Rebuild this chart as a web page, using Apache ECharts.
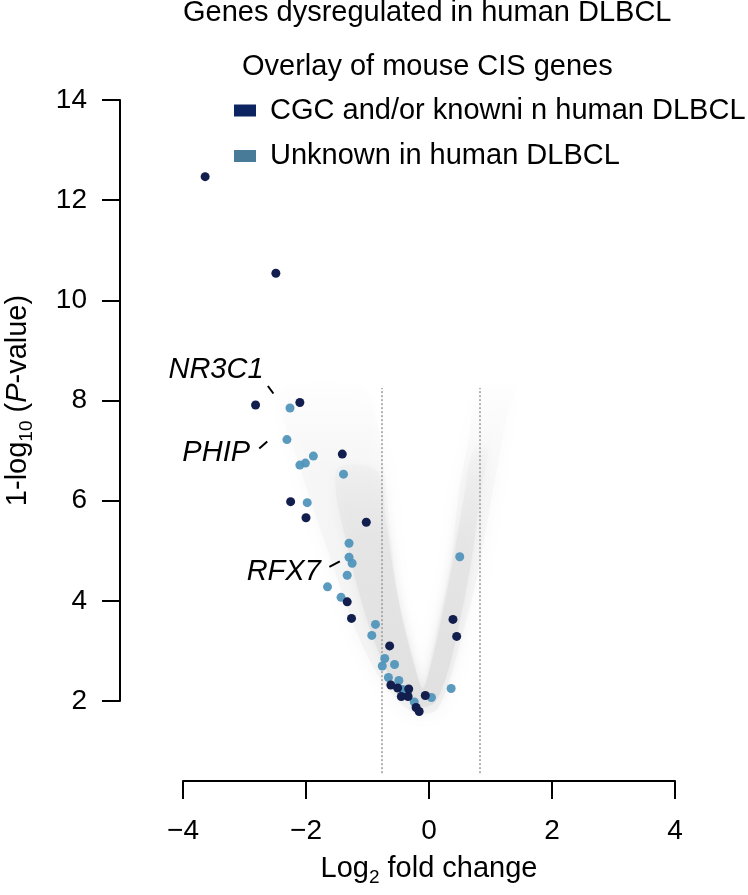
<!DOCTYPE html>
<html><head><meta charset="utf-8">
<script src="https://cdn.jsdelivr.net/npm/echarts@6/dist/echarts.min.js"></script>
<style>html,body{margin:0;padding:0;background:#fff}#c{width:748px;height:895px}</style>
</head><body><div id="c"></div>
<script>
// ---- data ----
const knownX = [-3.64,-2.49,-2.82,-2.10,-1.41,-2.25,-2.00,-1.02,-1.33,-1.26,-0.64,-0.62,-0.51,-0.33,-0.45,-0.34,-0.21,-0.16,-0.06,0.39,0.45];
const knownY = [12.47,10.54,7.91,7.96,6.93,5.98,5.66,5.57,3.98,3.65,3.10,2.32,2.26,2.24,2.09,2.09,1.87,1.79,2.11,3.63,3.29];
const unknownX = [-2.26,-2.31,-1.88,-2.01,-2.10,-1.39,-1.98,-1.30,-1.30,-1.25,-1.33,-1.65,-1.43,-0.87,-0.93,-0.72,-0.76,-0.56,-0.66,-0.49,-0.43,-0.40,-0.24,0.04,0.36,0.50];
const unknownY = [7.85,7.22,6.89,6.75,6.71,6.53,5.96,5.15,4.87,4.75,4.51,4.28,4.07,3.53,3.31,2.85,2.70,2.73,2.47,2.41,2.23,2.21,1.98,2.07,2.25,4.88];
const xTicks = [-4,-2,0,2,4];
const yTicks = [2,4,6,8,10,12,14];
const thresholdX = [-0.77, 0.83];
const thresholdYRange = [0.56, 8.25];
const geneNames = ['NR3C1','PHIP','RFX7'];
const geneLabelX = [-2.69,-2.91,-1.76];
const geneLabelY = [8.61,6.95,4.58];
const leaderX1 = [-2.62,-2.76,-1.62], leaderY1 = [8.29,7.04,4.68];
const leaderX2 = [-2.53,-2.63,-1.45], leaderY2 = [8.14,7.18,4.79];
// background gene cloud outline (rough shapes)
const cloudFaintX = [-2.41,-2.08,-1.59,-1.19,-0.78,-0.37,-0.13,0.12,0.28,0.52,0.77,1.01,1.26,1.42, 0.85,0.64,0.47,0.36,0.16,-0.05,-0.11,-0.29,-0.50,-0.62,-0.73,-0.94,-1.27];
const cloudFaintY = [8.21,6.61,4.81,3.42,2.42,1.86,1.74,1.82,2.22,3.22,4.42,6.01,7.61,8.41, 8.41,7.21,6.01,4.81,3.62,2.42,2.22,3.02,4.02,5.21,6.61,8.01,8.41];
const cloudDenseX = [-1.51,-1.27,-0.98,-0.65,-0.34,-0.11,0.10,0.29,0.49,0.69,0.85,0.95, 0.72,0.56,0.39,0.23,0.05,-0.10,-0.24,-0.41,-0.57,-0.70,-0.85];
const cloudDenseY = [6.61,4.81,3.52,2.52,2.02,1.88,1.98,2.52,3.52,4.81,6.21,7.01, 7.01,6.01,4.81,3.82,2.82,2.26,2.72,3.52,4.51,5.61,6.61];

const FONT = "'Liberation Sans', Arial, Helvetica, sans-serif";
const DARK = '#121e4d', LIGHT = '#5095ba';
const DARK_KEY = '#0c2461', LIGHT_KEY = '#3d7492';
const zip = (a,b) => a.map((v,i)=>[v,b[i]]);

function polygonSeries(xs, ys, fill, shadow, blur){
  return {
    type:'custom', xAxisIndex:0, yAxisIndex:0, silent:true, z:1,
    data:[[0,5]],
    renderItem:(params, api)=>({
      type:'polygon',
      shape:{points: xs.map((x,i)=>api.coord([x, ys[i]])), smooth:0.3},
      style:{fill:fill, shadowBlur:blur, shadowColor:shadow}
    })
  };
}

const chart = echarts.init(document.getElementById('c'), null, {renderer:'canvas'});
const richBase = {
  a:{fontSize:29, fontFamily:FONT, color:'#000', lineHeight:36, verticalAlign:'middle'},
  s:{fontSize:19, fontFamily:FONT, color:'#000', lineHeight:36, verticalAlign:'bottom'},
  i:{fontSize:29, fontFamily:FONT, color:'#000', fontStyle:'italic', lineHeight:36, verticalAlign:'middle'}
};
const denseFill = new echarts.graphic.LinearGradient(0,0,0,1,[
  {offset:0, color:'rgba(232,232,232,0.15)'},
  {offset:0.4, color:'rgba(228,228,228,0.85)'},
  {offset:1, color:'rgba(224,224,224,1)'}
]);
const faintFill = new echarts.graphic.LinearGradient(0,0,0,1,[
  {offset:0, color:'rgba(245,245,245,0)'},
  {offset:0.35, color:'rgba(244,244,244,0.7)'},
  {offset:1, color:'rgba(242,242,242,1)'}
]);
chart.setOption({
  animation:false,
  backgroundColor:'#fff',
  title:[
    {text:'Genes dysregulated in human DLBCL', left:183, top:-2, padding:0,
     textStyle:{fontSize:29, fontWeight:'normal', fontFamily:FONT, color:'#000', lineHeight:29}},
    {text:'Overlay of mouse CIS genes', left:242, top:52, padding:0,
     textStyle:{fontSize:29, fontWeight:'normal', fontFamily:FONT, color:'#000', lineHeight:29}}
  ],
  legend:{
    left:234, top:96, orient:'vertical', itemWidth:22, itemHeight:12, itemGap:16.5, padding:0,
    icon:'rect', selectedMode:false,
    textStyle:{fontSize:29, fontFamily:FONT, color:'#000', lineHeight:29, padding:[0,0,0,9]},
    data:[
      {name:'CGC and/or knowni n human DLBCL', itemStyle:{color:DARK_KEY}},
      {name:'Unknown in human DLBCL', itemStyle:{color:LIGHT_KEY}}
    ]
  },
  grid:[
    {left:183, top:100, width:492, height:681},
    {left:120, top:100, width:100, height:601}
  ],
  xAxis:[
    {gridIndex:0, type:'value', min:xTicks[0], max:xTicks[xTicks.length-1], interval:2,
     axisLine:{show:true, onZero:false, lineStyle:{color:'#000', width:2}},
     axisTick:{show:true, length:18, lineStyle:{color:'#000', width:2}},
     splitLine:{show:false},
     axisLabel:{fontSize:28, fontFamily:FONT, color:'#000', margin:36,
       formatter:v=>String(v).replace('-','\u2212')},
     name:'{a|Log}{s|2}{a| fold change}', nameLocation:'middle', nameGap:70,
     nameTextStyle:{rich:richBase}},
    {gridIndex:1, type:'value', min:0, max:1, show:false}
  ],
  yAxis:[
    {gridIndex:0, type:'value', min:0.403, max:14, show:false},
    {gridIndex:1, type:'value', min:yTicks[0], max:yTicks[yTicks.length-1], interval:2,
     axisLine:{show:true, onZero:false, lineStyle:{color:'#000', width:2}},
     axisTick:{show:true, length:18, lineStyle:{color:'#000', width:2}},
     splitLine:{show:false},
     axisLabel:{fontSize:28, fontFamily:FONT, color:'#000', margin:33},
     name:'{a|1-log}{s|10}{a| (}{i|P}{a|-value)}', nameLocation:'middle', nameGap:84,
     nameTextStyle:{rich:richBase}}
  ],
  series:[
    polygonSeries(cloudFaintX, cloudFaintY, faintFill, 'rgba(242,242,242,0.8)', 18),
    polygonSeries(cloudDenseX, cloudDenseY, denseFill, 'rgba(226,226,226,0.8)', 10),
    {type:'lines', coordinateSystem:'cartesian2d', xAxisIndex:0, yAxisIndex:0, silent:true, z:2,
     lineStyle:{color:'#9a9a9a', width:1.5, type:[2,2], opacity:1},
     data:thresholdX.map(x=>({coords:[[x,thresholdYRange[0]],[x,thresholdYRange[1]]]}))},
    {type:'lines', coordinateSystem:'cartesian2d', xAxisIndex:0, yAxisIndex:0, silent:true, z:3,
     lineStyle:{color:'#000', width:2, opacity:1},
     data:leaderX1.map((x,i)=>({coords:[[x,leaderY1[i]],[leaderX2[i],leaderY2[i]]]}))},
    {type:'scatter', xAxisIndex:0, yAxisIndex:0, symbolSize:0, silent:true, z:3,
     itemStyle:{color:'#000'},
     data:geneNames.map((n,i)=>({value:[geneLabelX[i],geneLabelY[i]], name:n})),
     label:{show:true, position:'left', distance:0, align:'right', verticalAlign:'middle',
       textBorderWidth:0, opacity:1,
       formatter:p=>p.name, fontSize:29, fontStyle:'italic', fontFamily:FONT, color:'#000'}},
    {name:'Unknown in human DLBCL', type:'scatter', xAxisIndex:0, yAxisIndex:0, z:4,
     symbolSize:9, itemStyle:{color:LIGHT, opacity:0.95}, data:zip(unknownX, unknownY)},
    {name:'CGC and/or knowni n human DLBCL', type:'scatter', xAxisIndex:0, yAxisIndex:0, z:5,
     symbolSize:9, itemStyle:{color:DARK, opacity:1}, data:zip(knownX, knownY)}
  ]
});
</script></body></html>
